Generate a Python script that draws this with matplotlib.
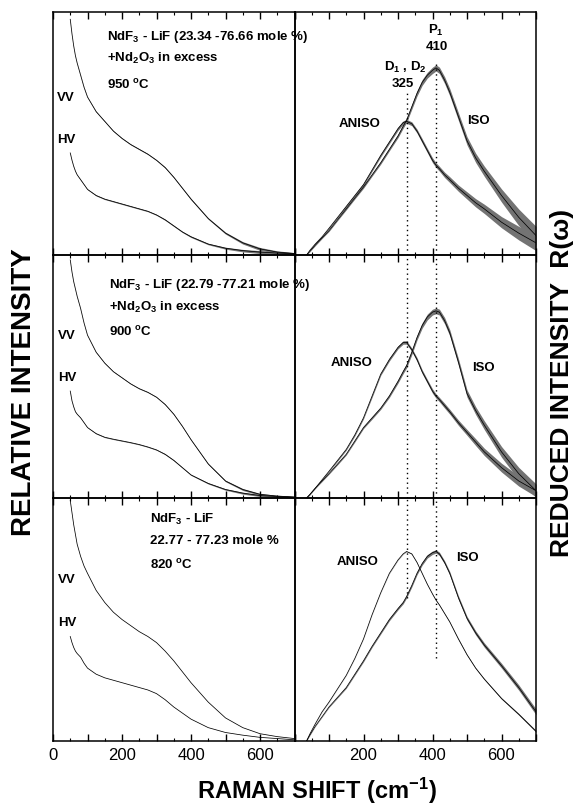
import matplotlib
matplotlib.use("Agg")
import matplotlib.pyplot as plt
import numpy as np

plt.rcParams['font.family'] = ['Liberation Sans', 'DejaVu Sans']
plt.rcParams['mathtext.fontset'] = 'custom'
plt.rcParams['mathtext.rm'] = 'Liberation Sans:bold'
plt.rcParams['mathtext.it'] = 'Liberation Sans:bold:italic'
plt.rcParams['mathtext.bf'] = 'Liberation Sans:bold'

W, H = 578, 807

# polarized spectra (left column), relative intensity
shift_pol = [50, 55, 60, 65, 70, 80, 90, 100, 125, 150, 175, 200, 225, 250, 275, 300, 325, 350, 375, 400,
             450, 500, 550, 600, 650, 700]
vv_950 = [0.97, 0.91, 0.86, 0.82, 0.79, 0.74, 0.69, 0.65, 0.59, 0.55, 0.51, 0.48, 0.455, 0.435, 0.415, 0.39,
          0.36, 0.32, 0.275, 0.23, 0.15, 0.09, 0.05, 0.025, 0.012, 0.006]
hv_950 = [0.42, 0.39, 0.365, 0.345, 0.33, 0.31, 0.29, 0.27, 0.245, 0.23, 0.22, 0.21, 0.20, 0.19, 0.18, 0.165,
          0.145, 0.12, 0.095, 0.075, 0.045, 0.028, 0.018, 0.012, 0.008, 0.005]
vv_900 = [0.98, 0.93, 0.89, 0.86, 0.83, 0.78, 0.72, 0.67, 0.60, 0.555, 0.52, 0.495, 0.47, 0.45, 0.435, 0.415,
          0.385, 0.345, 0.295, 0.24, 0.14, 0.07, 0.035, 0.015, 0.008, 0.004]
hv_900 = [0.44, 0.40, 0.375, 0.355, 0.345, 0.33, 0.31, 0.29, 0.265, 0.25, 0.242, 0.235, 0.228, 0.22, 0.21,
          0.198, 0.18, 0.155, 0.125, 0.095, 0.06, 0.035, 0.02, 0.01, 0.006, 0.003]
vv_820 = [0.99, 0.94, 0.89, 0.85, 0.81, 0.76, 0.72, 0.69, 0.62, 0.57, 0.53, 0.50, 0.475, 0.45, 0.43, 0.405,
          0.37, 0.33, 0.285, 0.24, 0.16, 0.095, 0.055, 0.03, 0.018, 0.01]
hv_820 = [0.43, 0.405, 0.385, 0.37, 0.36, 0.345, 0.32, 0.30, 0.275, 0.26, 0.25, 0.24, 0.23, 0.22, 0.21, 0.195,
          0.17, 0.14, 0.115, 0.09, 0.055, 0.035, 0.024, 0.015, 0.01, 0.005]
pol_noise_950 = [0.001, 0.001, 0.001, 0.001, 0.001, 0.0015, 0.0015, 0.0015, 0.002, 0.002, 0.002, 0.002, 0.002,
                 0.002, 0.002, 0.002, 0.0025, 0.0025, 0.0025, 0.003, 0.003, 0.004, 0.005, 0.006, 0.005, 0.004]
pol_noise_900 = [0.001, 0.001, 0.001, 0.001, 0.001, 0.001, 0.001, 0.001, 0.0015, 0.0015, 0.0015, 0.0015,
                 0.0015, 0.0015, 0.0015, 0.0015, 0.002, 0.002, 0.002, 0.002, 0.0025, 0.003, 0.004, 0.004,
                 0.003, 0.003]

# reduced spectra (right column)
shift_red = [35, 45, 60, 80, 100, 125, 150, 175, 200, 225, 250, 275, 300, 315, 325, 340, 355, 370, 385, 400,
             410, 420, 435, 450, 475, 500, 525, 550, 600, 650, 700]
aniso_950 = [0.0, 0.02, 0.045, 0.075, 0.11, 0.155, 0.20, 0.245, 0.29, 0.35, 0.41, 0.465, 0.52, 0.545, 0.55,
             0.54, 0.51, 0.47, 0.43, 0.39, 0.37, 0.355, 0.33, 0.31, 0.275, 0.245, 0.215, 0.19, 0.135, 0.09, 0.05]
iso_950 = [0.0, 0.015, 0.04, 0.07, 0.10, 0.145, 0.19, 0.235, 0.28, 0.33, 0.38, 0.435, 0.49, 0.53, 0.555,
           0.61, 0.665, 0.71, 0.74, 0.76, 0.77, 0.76, 0.72, 0.67, 0.57, 0.47, 0.40, 0.345, 0.245, 0.155, 0.08]
aniso_900 = [0.0, 0.015, 0.04, 0.075, 0.11, 0.155, 0.20, 0.26, 0.33, 0.42, 0.51, 0.57, 0.62, 0.64, 0.64,
             0.61, 0.57, 0.52, 0.48, 0.44, 0.42, 0.405, 0.38, 0.355, 0.31, 0.27, 0.23, 0.19, 0.125, 0.07, 0.03]
iso_900 = [0.0, 0.015, 0.04, 0.07, 0.10, 0.14, 0.18, 0.235, 0.29, 0.33, 0.37, 0.42, 0.48, 0.52, 0.545,
           0.60, 0.66, 0.71, 0.745, 0.765, 0.77, 0.765, 0.73, 0.68, 0.56, 0.43, 0.36, 0.30, 0.19, 0.10, 0.03]
aniso_820 = [0.0, 0.03, 0.07, 0.12, 0.16, 0.215, 0.27, 0.34, 0.42, 0.52, 0.61, 0.69, 0.745, 0.77, 0.78,
             0.77, 0.735, 0.69, 0.645, 0.605, 0.58, 0.56, 0.525, 0.49, 0.42, 0.355, 0.30, 0.255, 0.175, 0.11, 0.04]
iso_820 = [0.0, 0.025, 0.06, 0.10, 0.14, 0.18, 0.22, 0.275, 0.33, 0.39, 0.445, 0.50, 0.545, 0.57, 0.595,
           0.64, 0.69, 0.73, 0.76, 0.775, 0.78, 0.77, 0.735, 0.69, 0.59, 0.505, 0.445, 0.395, 0.31, 0.22, 0.12]
aniso_noise_950 = [0.001, 0.001, 0.002, 0.002, 0.003, 0.003, 0.004, 0.004, 0.005, 0.005, 0.006, 0.006, 0.007,
                   0.007, 0.008, 0.008, 0.008, 0.009, 0.009, 0.010, 0.010, 0.010, 0.011, 0.012, 0.013, 0.015,
                   0.017, 0.019, 0.023, 0.028, 0.032]
iso_noise_950 = [0.001, 0.001, 0.002, 0.002, 0.003, 0.003, 0.004, 0.004, 0.005, 0.005, 0.006, 0.006, 0.007,
                 0.008, 0.009, 0.010, 0.011, 0.012, 0.012, 0.013, 0.013, 0.013, 0.014, 0.015, 0.016, 0.017,
                 0.019, 0.021, 0.027, 0.034, 0.038]
aniso_noise_900 = [0.001, 0.001, 0.001, 0.002, 0.002, 0.003, 0.003, 0.004, 0.004, 0.005, 0.005, 0.006, 0.006,
                   0.007, 0.007, 0.007, 0.008, 0.008, 0.008, 0.009, 0.009, 0.009, 0.010, 0.010, 0.011, 0.012,
                   0.014, 0.015, 0.018, 0.021, 0.024]
iso_noise_900 = [0.001, 0.001, 0.001, 0.002, 0.002, 0.003, 0.003, 0.004, 0.004, 0.005, 0.005, 0.006, 0.007,
                 0.008, 0.009, 0.010, 0.010, 0.011, 0.012, 0.012, 0.012, 0.012, 0.013, 0.013, 0.014, 0.015,
                 0.016, 0.018, 0.022, 0.026, 0.028]
aniso_noise_820 = [0.0005, 0.0005, 0.0005, 0.0005, 0.0005, 0.0005, 0.0005, 0.0005, 0.0005, 0.0005, 0.0005,
                   0.001, 0.001, 0.001, 0.001, 0.001, 0.001, 0.001, 0.001, 0.001, 0.0015, 0.0015, 0.0015,
                   0.0015, 0.002, 0.002, 0.002, 0.0025, 0.003, 0.0035, 0.004]
iso_noise_820 = [0.0005, 0.001, 0.001, 0.0015, 0.002, 0.0025, 0.003, 0.0035, 0.004, 0.004, 0.0045, 0.005,
                 0.005, 0.0055, 0.006, 0.006, 0.006, 0.0065, 0.007, 0.007, 0.007, 0.007, 0.007, 0.0075,
                 0.008, 0.008, 0.0085, 0.009, 0.010, 0.011, 0.012]

peak_d = 325
peak_p = 410
x_ticks = [0, 100, 200, 300, 400, 500, 600, 700]
left_labels = ['0', '', '200', '', '400', '', '600', '']
right_labels = ['', '', '200', '', '400', '', '600', '']


def px(x, y):
    return x / W, 1 - y / H


def draw_curve(ax, x, y, noise):
    x = np.array(x)
    y = np.array(y)
    if noise is not None:
        n = np.array(noise)
        ax.fill_between(x, y - n, y + n, color='0.45', lw=0)
    ax.plot(x, y, color='black', lw=0.55)


fig = plt.figure(figsize=(W / 100, H / 100), dpi=100)
gs = fig.add_gridspec(3, 2, left=53 / W, right=536 / W, top=1 - 12 / H,
                      bottom=1 - 741 / H, hspace=0, wspace=0)

rows = [
    (vv_950, hv_950, pol_noise_950, aniso_950, iso_950, aniso_noise_950, iso_noise_950),
    (vv_900, hv_900, pol_noise_900, aniso_900, iso_900, aniso_noise_900, iso_noise_900),
    (vv_820, hv_820, None, aniso_820, iso_820, aniso_noise_820, iso_noise_820),
]
# extent of dotted lines (axes fraction) per row: (325 top, 325 bottom, 410 top, 410 bottom)
dot_span = [(0.67, 0.0, 0.79, 0.0), (1.0, 0.0, 1.0, 0.0), (1.0, 0.59, 1.0, 0.34)]

for r, (vv, hv, pn, an, iso, an_n, iso_n) in enumerate(rows):
    axl = fig.add_subplot(gs[r, 0])
    axr = fig.add_subplot(gs[r, 1])
    draw_curve(axl, shift_pol, vv, pn)
    draw_curve(axl, shift_pol, hv, pn)
    draw_curve(axr, shift_red, an, an_n)
    draw_curve(axr, shift_red, iso, iso_n)
    t1, b1, t2, b2 = dot_span[r]
    axr.axvline(peak_d, ymin=b1, ymax=t1, color='black', lw=1.0, ls=(0, (1, 2.5)))
    axr.axvline(peak_p, ymin=b2, ymax=t2, color='black', lw=1.0, ls=(0, (1, 2.5)))
    for ax, labs in ((axl, left_labels), (axr, right_labels)):
        ax.patch.set_visible(False)
        ax.set_xlim(0, 700)
        ax.set_ylim(0, 1)
        ax.set_yticks([])
        ax.set_xticks(x_ticks)
        ax.set_xticks(range(50, 700, 100), minor=True)
        if r == 2:
            ax.set_xticklabels(labs, fontsize=12)
        else:
            ax.set_xticklabels([])
        ax.tick_params(axis='x', which='both', direction='in', top=True, bottom=True, pad=5)
        ax.tick_params(axis='x', which='major', length=5, width=1)
        ax.tick_params(axis='x', which='minor', length=2.5, width=0.8)
        for s in ax.spines.values():
            s.set_linewidth(1.1)

txt = dict(fontsize=9.5, fontweight='bold', va='center')
# row 1
fig.text(*px(107, 37), 'NdF$_3$ - LiF (23.34 -76.66 mole %)', **txt)
fig.text(*px(107, 58), '+Nd$_2$O$_3$ in excess', **txt)
fig.text(*px(107, 85), '950 $^{\\mathrm{o}}$C', **txt)
fig.text(*px(57, 98), 'VV', **txt)
fig.text(*px(57, 140), 'HV', **txt)
fig.text(*px(436, 30), 'P$_1$', ha='center', **txt)
fig.text(*px(437, 47), '410', ha='center', **txt)
fig.text(*px(405, 67), 'D$_1$ , D$_2$', ha='center', **txt)
fig.text(*px(403, 84), '325', ha='center', **txt)
fig.text(*px(360, 124), 'ANISO', ha='center', **txt)
fig.text(*px(478, 121), 'ISO', ha='center', **txt)
# row 2
fig.text(*px(109, 285), 'NdF$_3$ - LiF (22.79 -77.21 mole %)', **txt)
fig.text(*px(109, 307), '+Nd$_2$O$_3$ in excess', **txt)
fig.text(*px(109, 332), '900 $^{\\mathrm{o}}$C', **txt)
fig.text(*px(58, 336), 'VV', **txt)
fig.text(*px(58, 378), 'HV', **txt)
fig.text(*px(352, 363), 'ANISO', ha='center', **txt)
fig.text(*px(483, 368), 'ISO', ha='center', **txt)
# row 3
fig.text(*px(150, 519), 'NdF$_3$ - LiF', **txt)
fig.text(*px(150, 541), '22.77 - 77.23 mole %', **txt)
fig.text(*px(150, 565), '820 $^{\\mathrm{o}}$C', **txt)
fig.text(*px(58, 580), 'VV', **txt)
fig.text(*px(58, 623), 'HV', **txt)
fig.text(*px(358, 562), 'ANISO', ha='center', **txt)
fig.text(*px(467, 558), 'ISO', ha='center', **txt)

# axis titles
fig.text(*px(24, 392), 'RELATIVE INTENSITY', rotation=90, fontsize=20,
         fontweight='bold', ha='center', va='center')
fig.text(*px(562, 383), 'REDUCED INTENSITY  R(ω)', rotation=90, fontsize=19,
         fontweight='bold', ha='center', va='center')
fig.text(*px(317, 791), 'RAMAN SHIFT (cm$^{-1}$)', fontsize=17,
         fontweight='bold', ha='center', va='center')

fig.savefig('out.png', dpi=100)
